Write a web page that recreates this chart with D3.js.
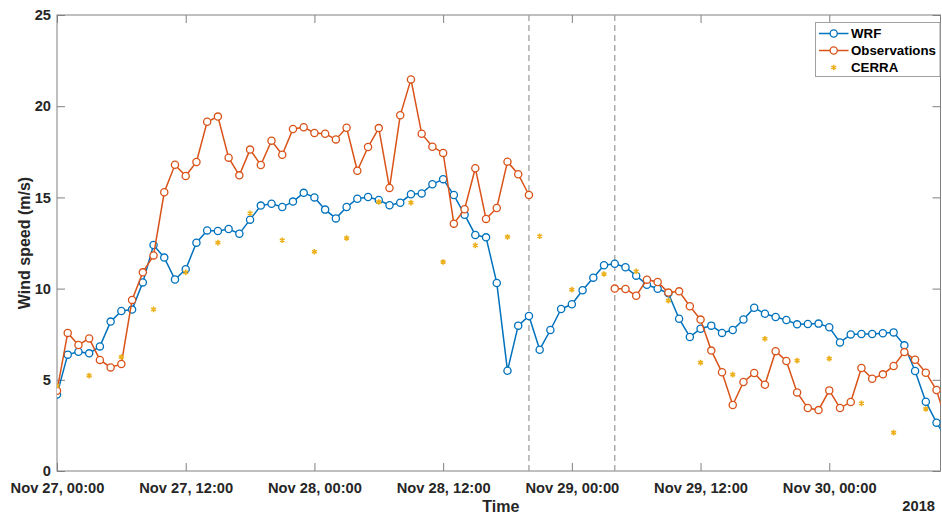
<!DOCTYPE html>
<html>
<head>
<meta charset="utf-8">
<script src="https://cdn.jsdelivr.net/npm/d3@7"></script>
<style>
  html, body { margin: 0; padding: 0; background: #fff; }
  svg { display: block; font-family: "Liberation Sans", Arial, sans-serif; }
</style>
</head>
<body>
<svg id="chart" width="942" height="518"></svg>
<script>
// ---- data (hourly from Nov 27 2018, 00:00) ----
const startTime = Date.UTC(2018, 10, 27, 0, 0);
const wrfSpeed = [4.2, 6.38, 6.54, 6.45, 6.83, 8.19, 8.77, 8.85, 10.34, 12.39, 11.7, 10.5,
  11.06, 12.52, 13.19, 13.16, 13.27, 13.01, 13.78, 14.55, 14.65, 14.47, 14.77, 15.25,
  15.0, 14.33, 13.85, 14.47, 14.93, 15.02, 14.86, 14.57, 14.71, 15.17, 15.22, 15.72,
  16.0, 15.13, 14.05, 12.94, 12.81, 10.31, 5.5, 7.97, 8.5, 6.65, 7.73, 8.88,
  9.14, 9.91, 10.6, 11.28, 11.36, 11.17, 10.71, 10.21, 9.99, 9.74, 8.35, 7.35,
  7.8, 7.97, 7.57, 7.73, 8.31, 8.95, 8.62, 8.44, 8.28, 8.04, 8.06, 8.08,
  7.88, 7.05, 7.49, 7.51, 7.51, 7.55, 7.6, 6.89, 5.48, 3.8, 2.65, 1.7];
const obsSpeed = [4.4, 7.57, 6.91, 7.27, 6.09, 5.68, 5.87, 9.38, 10.89, 11.82, 15.28, 16.79,
  16.17, 16.94, 19.15, 19.43, 17.18, 16.21, 17.62, 16.78, 18.11, 17.34, 18.75, 18.85,
  18.53, 18.49, 18.18, 18.82, 16.46, 17.76, 18.8, 15.52, 19.5, 21.47, 18.49, 17.78,
  17.44, 13.56, 14.35, 16.6, 13.82, 14.42, 16.96, 16.27, 15.13, null, null, null,
  null, null, null, null, 10.0, 9.98, 9.61, 10.49, 10.36, 9.78, 9.85, 9.03,
  8.3, 6.6, 5.41, 3.62, 4.88, 5.37, 4.73, 6.57, 6.03, 4.31, 3.45, 3.34,
  4.42, 3.45, 3.78, 5.65, 5.06, 5.3, 5.76, 6.52, 6.1, 5.39, 4.44, 2.5];
const cerraHours = [0, 3, 6, 9, 12, 15, 18, 21, 24, 27, 30, 33, 36, 39, 42, 45, 48, 51,
  54, 57, 60, 63, 66, 69, 72, 75, 78, 81];
const cerraSpeed = [4.68, 5.23, 6.25, 8.86, 10.89, 12.52, 14.13, 12.65, 12.02, 12.77, 14.75,
  14.71, 11.46, 12.37, 12.83, 12.87, 9.94, 10.8, 10.95, 9.34, 5.94, 5.28, 7.25,
  6.05, 6.16, 3.71, 2.1, 3.4];
const dividerHours = [44, 52];
const xTickHours = [0, 12, 24, 36, 48, 60, 72];
const xTickLabels = ["Nov 27, 00:00", "Nov 27, 12:00", "Nov 28, 00:00", "Nov 28, 12:00",
  "Nov 29, 00:00", "Nov 29, 12:00", "Nov 30, 00:00"];
const yTicks = [0, 5, 10, 15, 20, 25];
const seriesNames = ["WRF", "Observations", "CERRA"];
const xEndHour = 82.37;

// ---- layout ----
const HOUR = 3600 * 1000;
const toDate = h => new Date(startTime + h * HOUR);
const L = 57, R = 940.5, T = 15, B = 471;
const colWRF = "#0072BD", colObs = "#D95319", colCerra = "#EDB120";
const axisCol = "#808080", textCol = "#262626";

const svg = d3.select("#chart");
const x = d3.scaleUtc().domain([toDate(0), toDate(xEndHour)]).range([L, R]);
const y = d3.scaleLinear().domain([0, 25]).range([B, T]);

svg.append("defs").append("clipPath").attr("id", "clip")
  .append("rect").attr("x", L).attr("y", T).attr("width", R - L).attr("height", B - T);

const tickDates = xTickHours.map(toDate);
const fmtX = (d, i) => xTickLabels[i];

function styleAxis(g) {
  g.select(".domain").remove();
  g.selectAll(".tick line").attr("stroke", axisCol);
  g.selectAll(".tick text").attr("fill", textCol).attr("font-weight", "bold").attr("font-size", "14.7px");
}

// axes
svg.append("g").attr("transform", `translate(0,${B})`)
  .call(d3.axisBottom(x).tickValues(tickDates).tickFormat(fmtX).tickSizeInner(-8).tickSizeOuter(0).tickPadding(11.5))
  .call(styleAxis);
svg.append("g").attr("transform", `translate(0,${T})`)
  .call(d3.axisTop(x).tickValues(tickDates).tickFormat("").tickSizeInner(-8).tickSizeOuter(0))
  .call(styleAxis);
svg.append("g").attr("transform", `translate(${L},0)`)
  .call(d3.axisLeft(y).tickValues(yTicks).tickFormat(d3.format("d")).tickSizeInner(-8).tickSizeOuter(0).tickPadding(6))
  .call(styleAxis);
svg.append("g").attr("transform", `translate(${R},0)`)
  .call(d3.axisRight(y).tickValues(yTicks).tickFormat("").tickSizeInner(-8).tickSizeOuter(0))
  .call(styleAxis);

// box
svg.append("rect").attr("x", L).attr("y", T).attr("width", R - L).attr("height", B - T)
  .attr("fill", "none").attr("stroke", axisCol).attr("stroke-width", 1);

// axis labels
svg.append("text").attr("x", (L + R) / 2 + 2).attr("y", 512).attr("text-anchor", "middle")
  .attr("font-weight", "bold").attr("font-size", "16px").attr("fill", textCol).text("Time");
svg.append("text").attr("transform", `translate(30,${(T + B) / 2}) rotate(-90)`).attr("text-anchor", "middle")
  .attr("font-weight", "bold").attr("font-size", "16px").attr("fill", textCol).text("Wind speed (m/s)");
svg.append("text").attr("x", 935).attr("y", 511).attr("text-anchor", "end")
  .attr("font-weight", "bold").attr("font-size", "14.7px").attr("fill", textCol).text("2018");

const plot = svg.append("g").attr("clip-path", "url(#clip)");

// dividers
plot.selectAll("line.div").data(dividerHours).join("line").attr("class", "div")
  .attr("x1", d => x(toDate(d))).attr("x2", d => x(toDate(d)))
  .attr("y1", T).attr("y2", B)
  .attr("stroke", "#a6a6a6").attr("stroke-width", 1.4).attr("stroke-dasharray", "6,4");

// series
function drawSeries(values, color) {
  const pts = values.map((v, i) => ({ t: toDate(i), v }));
  const line = d3.line().defined(d => d.v != null).x(d => x(d.t)).y(d => y(d.v));
  plot.append("path").datum(pts).attr("fill", "none").attr("stroke", color)
    .attr("stroke-width", 1.5).attr("d", line);
  plot.selectAll(null).data(pts.filter(d => d.v != null)).join("circle")
    .attr("cx", d => x(d.t)).attr("cy", d => y(d.v)).attr("r", 3.6)
    .attr("fill", "#fff").attr("stroke", color).attr("stroke-width", 1.3);
}
drawSeries(wrfSpeed, colWRF);
drawSeries(obsSpeed, colObs);

const star = d3.symbol().type(d3.symbolAsterisk).size(22);
plot.selectAll("path.cerra").data(cerraHours.map((h, i) => ({ t: toDate(h), v: cerraSpeed[i] })))
  .join("path").attr("class", "cerra")
  .attr("transform", d => `translate(${x(d.t)},${y(d.v)})`)
  .attr("d", star).attr("fill", "none").attr("stroke", colCerra).attr("stroke-width", 1.6);

// legend
const lg = svg.append("g");
lg.append("rect").attr("x", 815.5).attr("y", 22.5).attr("width", 124.5).attr("height", 54)
  .attr("fill", "#fff").attr("stroke", "#a0a0a0").attr("stroke-width", 1);
const rowsY = [33.5, 50.5, 67.5];
const lgColors = [colWRF, colObs, colCerra];
seriesNames.forEach((name, i) => {
  const yy = rowsY[i];
  if (i < 2) {
    lg.append("line").attr("x1", 819).attr("x2", 848.5).attr("y1", yy).attr("y2", yy)
      .attr("stroke", lgColors[i]).attr("stroke-width", 1.5);
    lg.append("circle").attr("cx", 833.7).attr("cy", yy).attr("r", 3.6)
      .attr("fill", "#fff").attr("stroke", lgColors[i]).attr("stroke-width", 1.3);
  } else {
    lg.append("path").attr("transform", `translate(833.7,${yy})`).attr("d", star)
      .attr("fill", "none").attr("stroke", colCerra).attr("stroke-width", 1.6);
  }
  lg.append("text").attr("x", 851).attr("y", yy).attr("dy", "0.35em")
    .attr("font-weight", "bold").attr("font-size", "13.3px").attr("fill", "#000").text(name);
});
</script>
</body>
</html>
